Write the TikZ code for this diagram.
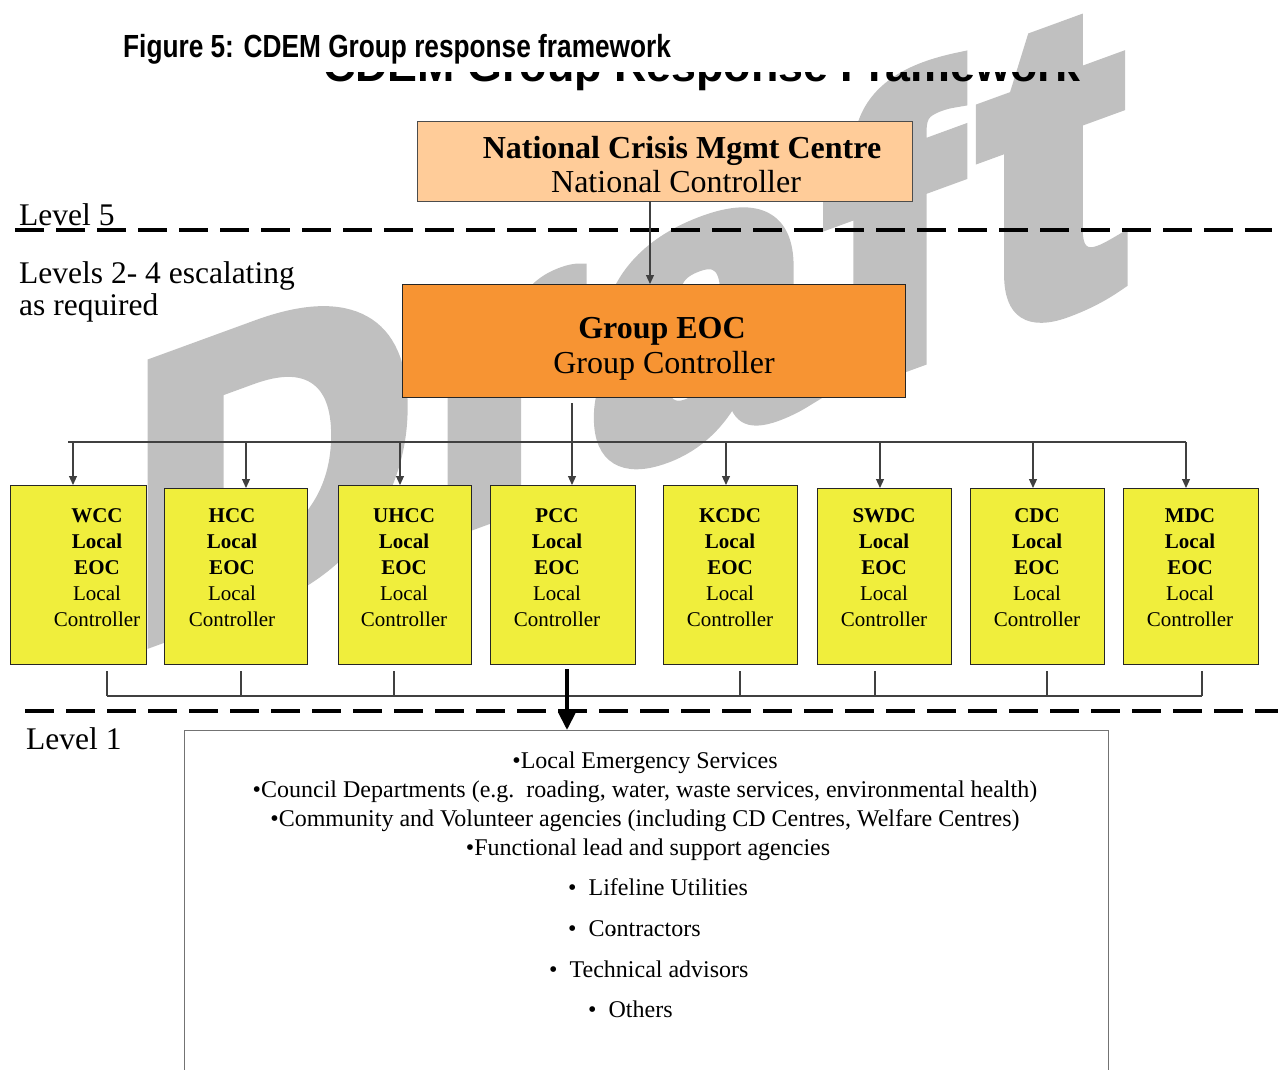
\documentclass[tikz,border=0pt]{standalone}
\usepackage{fontspec}
\setmainfont{Liberation Serif}
\newfontfamily\titlefont[FakeStretch=0.82]{Liberation Sans}
\newfontfamily\ghostfont{Liberation Sans}
\newfontfamily\wmfont[BoldFeatures={FakeBold=5}]{Liberation Sans}
\usetikzlibrary{arrows.meta}
\definecolor{wmgray}{HTML}{C0C0C0}
\definecolor{peach}{HTML}{FFCC99}
\definecolor{grporange}{HTML}{F79433}
\definecolor{locyellow}{HTML}{F0EE3C}
\tikzset{
  conn/.style={draw=black!75, line width=1.1pt},
  arr/.style={conn, -{Triangle[length=9pt,width=8pt]}},
  bigarr/.style={draw=black, line width=4pt, -{Triangle[length=18pt,width=17pt]}},
  levelline/.style={draw=black, line width=4.5pt, dash pattern=on 29pt off 12pt},
  topbox/.style={draw=black!70, line width=1.4pt, inner sep=0, anchor=north west},
  localbox/.style={draw=black!85, line width=1.4pt, fill=locyellow, inner sep=0, anchor=north west},
  loctext/.style={align=center, font=\fontsize{21}{26}\selectfont, inner sep=0},
  bigtext/.style={font=\fontsize{32}{34}\selectfont, inner sep=0, anchor=base},
  lvltext/.style={font=\fontsize{31.5}{32}\selectfont, inner sep=0, anchor=base west},
  listtext/.style={font=\fontsize{24}{29}\selectfont, inner sep=0, anchor=base},
  subtext/.style={font=\fontsize{24}{29}\selectfont, inner sep=0, anchor=base west},
  wmletter/.style={font=\wmfont\bfseries\fontsize{392}{392}\selectfont, text=wmgray, inner sep=0, anchor=base west, transform shape},
}
\begin{document}
\begin{tikzpicture}[x=1pt,y=-1pt]
\useasboundingbox (0,0) rectangle (1280,1070);

% watermark
\begin{scope}[shift={(145,640)}, yslant=0.365]
  \node[wmletter] (wmD) at (-14,0) {D};
  \node[wmletter] (wmr) at (285,0) {r};
  \node[wmletter] (wma) at (447,0) {a};
  \node[wmletter] (wmf) at (681,0) {f};
  \node[wmletter, xscale=1.08, yscale=1.07] (wmt) at (836,0) {t};
\end{scope}

% ghost title (only its lower part shows)
\begin{scope}
  \path[clip] (300,73) -- (1100,73) -- (1100,96) -- (300,96) -- cycle;
  \node[font=\ghostfont\bfseries\fontsize{44.8}{46}\selectfont, inner sep=0, anchor=base west] (ghost) at (323,82) {CDEM Group Response Framework};
\end{scope}

% title
\node[font=\titlefont\bfseries\fontsize{32}{34}\selectfont, inner sep=0, anchor=base west] (title) at (123,58) {Figure 5: CDEM Group response framework};

% level lines
\coordinate (l5a) at (15,230);
\coordinate (l5b) at (1272,230);
\draw[levelline] (l5a) -- (l5b);
\coordinate (l1a) at (25,711);
\coordinate (l1b) at (1278,711);
\draw[levelline] (l1a) -- (l1b);

% level labels
\node[lvltext] (lvl5) at (19,225) {Level 5};
\node[lvltext] (lvl24a) at (19,283) {Levels 2- 4 escalating};
\node[lvltext] (lvl24b) at (19,315) {as required};
\node[lvltext] (lvl1) at (26,749) {Level 1};

% national box
\node[topbox, fill=peach, minimum width=495pt, minimum height=80pt] (ncmc) at (417,121) {};
\node[bigtext, font=\bfseries\fontsize{32}{34}\selectfont] (ncmcA) at (682,159) {National Crisis Mgmt Centre};
\node[bigtext] (ncmcB) at (676,193) {National Controller};

% group box
\node[topbox, draw=black!85, fill=grporange, minimum width=503pt, minimum height=113pt] (geoc) at (402,284) {};
\node[bigtext, font=\bfseries\fontsize{32}{34}\selectfont] (geocA) at (662,338) {Group EOC};
\node[bigtext] (geocB) at (664,373) {Group Controller};

% local boxes
\node[localbox, minimum width=136pt, minimum height=179pt] (wcc) at (10,485) {};
\node[localbox, minimum width=143pt, minimum height=176pt] (hcc) at (164,488) {};
\node[localbox, minimum width=133pt, minimum height=179pt] (uhcc) at (338,485) {};
\node[localbox, minimum width=145pt, minimum height=179pt] (pcc) at (490,485) {};
\node[localbox, minimum width=134pt, minimum height=179pt] (kcdc) at (663,485) {};
\node[localbox, minimum width=134pt, minimum height=176pt] (swdc) at (817,488) {};
\node[localbox, minimum width=134pt, minimum height=176pt] (cdc) at (970,488) {};
\node[localbox, minimum width=135pt, minimum height=176pt] (mdc) at (1123,488) {};

\node[loctext] (wccT) at (97,568) {\textbf{WCC}\\\textbf{Local}\\\textbf{EOC}\\Local\\Controller};
\node[loctext] (hccT) at (232,568) {\textbf{HCC}\\\textbf{Local}\\\textbf{EOC}\\Local\\Controller};
\node[loctext] (uhccT) at (404,568) {\textbf{UHCC}\\\textbf{Local}\\\textbf{EOC}\\Local\\Controller};
\node[loctext] (pccT) at (557,568) {\textbf{PCC}\\\textbf{Local}\\\textbf{EOC}\\Local\\Controller};
\node[loctext] (kcdcT) at (730,568) {\textbf{KCDC}\\\textbf{Local}\\\textbf{EOC}\\Local\\Controller};
\node[loctext] (swdcT) at (884,568) {\textbf{SWDC}\\\textbf{Local}\\\textbf{EOC}\\Local\\Controller};
\node[loctext] (cdcT) at (1037,568) {\textbf{CDC}\\\textbf{Local}\\\textbf{EOC}\\Local\\Controller};
\node[loctext] (mdcT) at (1190,568) {\textbf{MDC}\\\textbf{Local}\\\textbf{EOC}\\Local\\Controller};

% national -> group
\coordinate (nArr) at (650,201);
\draw[arr] (nArr) -- (nArr |- geoc.north);

% top bus
\coordinate (busL) at (68,442);
\coordinate (busR) at (1186,442);
\draw[conn] (busL) -- (busR);
\coordinate (aWCC) at (73,442);
\coordinate (aHCC) at (246,442);
\coordinate (aUHCC) at (400,442);
\coordinate (aPCC) at (572,442);
\coordinate (aKCDC) at (726,442);
\coordinate (aSWDC) at (880,442);
\coordinate (aCDC) at (1033,442);
\coordinate (aMDC) at (1186,442);
\draw[arr] (aWCC) -- (aWCC |- wcc.north);
\draw[arr] (aHCC) -- (aHCC |- hcc.north);
\draw[arr] (aUHCC) -- (aUHCC |- uhcc.north);
\draw[arr] (geoc.south -| aPCC) ++(0,5) -- (aPCC |- pcc.north);
\draw[arr] (aKCDC) -- (aKCDC |- kcdc.north);
\draw[arr] (aSWDC) -- (aSWDC |- swdc.north);
\draw[arr] (aCDC) -- (aCDC |- cdc.north);
\draw[arr] (aMDC) -- (aMDC |- mdc.north);

% bottom bus
\coordinate (bWCC) at (107,696);
\coordinate (bHCC) at (241,696);
\coordinate (bUHCC) at (394,696);
\coordinate (bPCC) at (567,696);
\coordinate (bKCDC) at (740,696);
\coordinate (bSWDC) at (875,696);
\coordinate (bCDC) at (1047,696);
\coordinate (bMDC) at (1202,696);
\draw[conn] (bWCC) -- (bMDC);
\draw[conn] (wcc.south -| bWCC) ++(0,6) -- (bWCC);
\draw[conn] (hcc.south -| bHCC) ++(0,6) -- (bHCC);
\draw[conn] (uhcc.south -| bUHCC) ++(0,6) -- (bUHCC);
\draw[conn] (kcdc.south -| bKCDC) ++(0,6) -- (bKCDC);
\draw[conn] (swdc.south -| bSWDC) ++(0,6) -- (bSWDC);
\draw[conn] (cdc.south -| bCDC) ++(0,6) -- (bCDC);
\draw[conn] (mdc.south -| bMDC) ++(0,6) -- (bMDC);

% level 1 box
\node[topbox, draw=black!55, fill=white, minimum width=924pt, minimum height=360pt] (lbox) at (184,730) {};
\draw[bigarr] (pcc.south -| bPCC) ++(0,4) -- (bPCC |- lbox.north);

\node[listtext] (li1) at (645,768) {•Local Emergency Services};
\node[listtext] (li2) at (645,797) {•Council Departments (e.g.\ \ roading, water, waste services, environmental health)};
\node[listtext] (li3) at (645,826) {•Community and Volunteer agencies (including CD Centres, Welfare Centres)};
\node[listtext] (li4) at (648,855) {•Functional lead and support agencies};
\node[subtext] (si1) at (568,895) {•\ \ Lifeline Utilities};
\node[subtext] (si2) at (568,936) {•\ \ Contractors};
\node[subtext] (si3) at (549,977) {•\ \ Technical advisors};
\node[subtext] (si4) at (588,1017) {•\ \ Others};
\fill (613,932) circle (1.5);
\end{tikzpicture}
\end{document}
